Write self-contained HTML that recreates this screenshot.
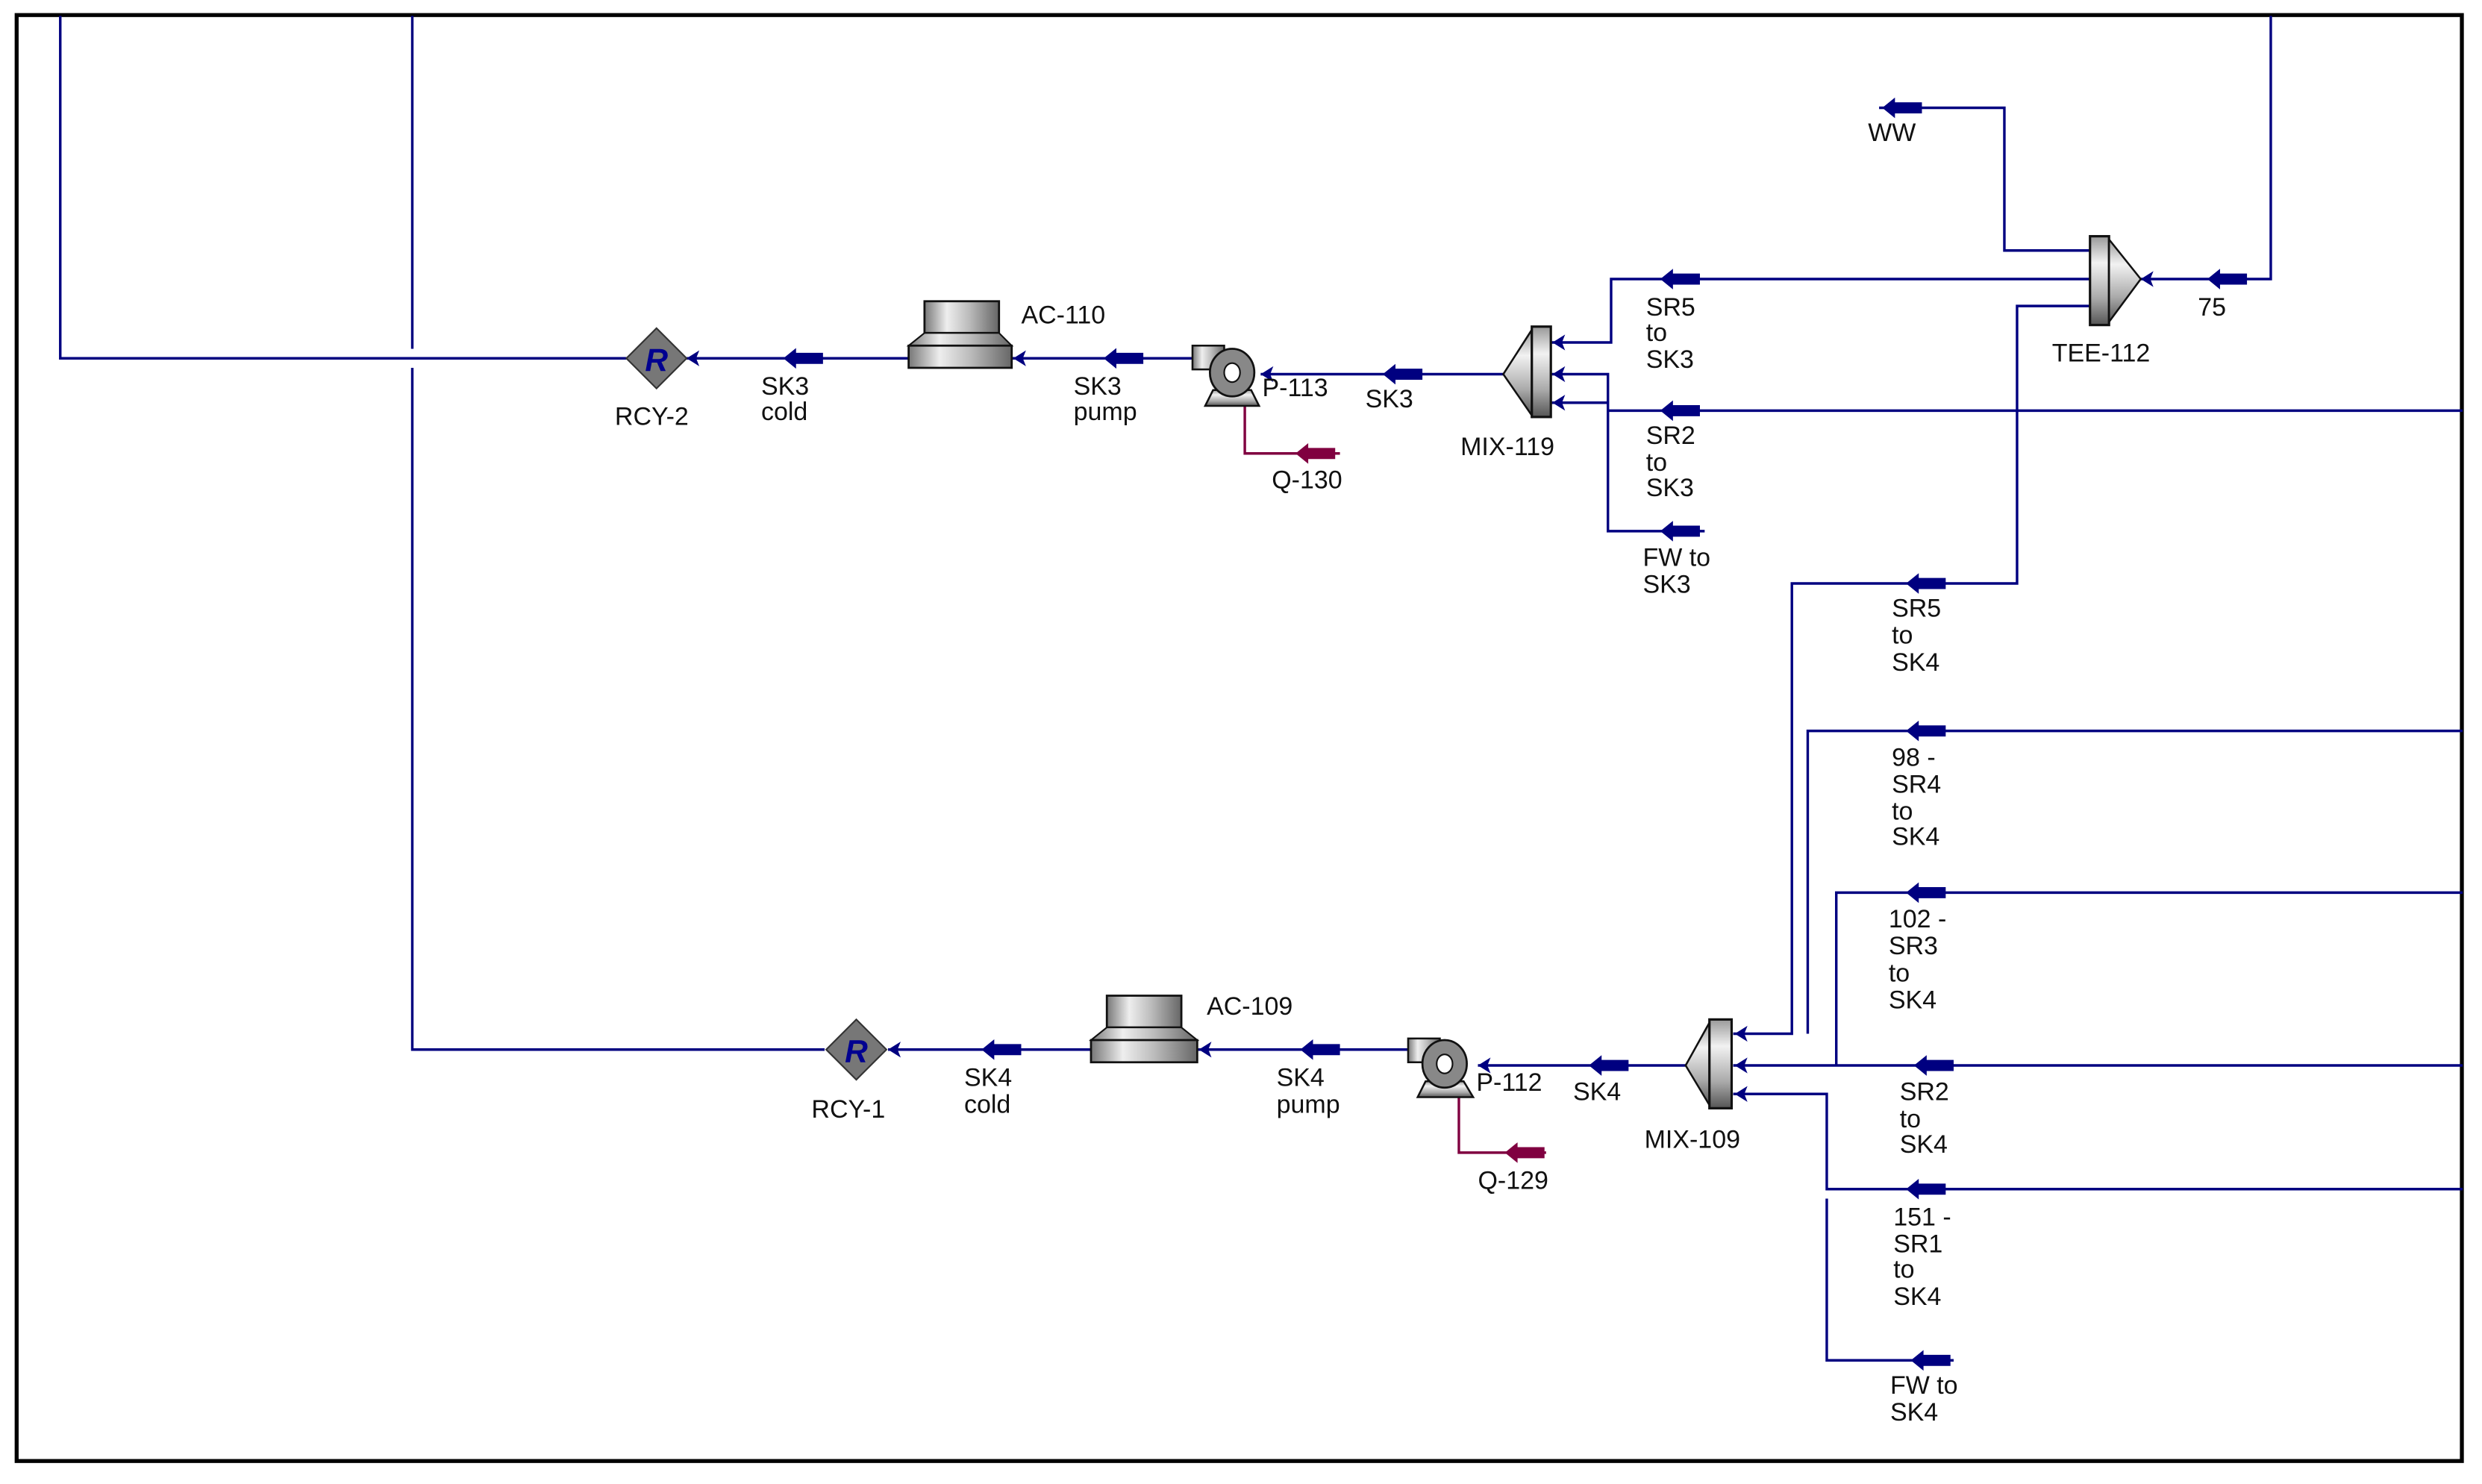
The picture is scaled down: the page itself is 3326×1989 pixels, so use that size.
<!DOCTYPE html>
<html><head><meta charset="utf-8"><style>
html,body{margin:0;padding:0;background:#fff;}
svg{display:block;}
text{font-family:"Liberation Sans",Arial,sans-serif;font-size:16px;fill:#111;}
</style></head><body>
<svg width="3326" height="1989" viewBox="0 0 1565.2 936" preserveAspectRatio="none" xmlns="http://www.w3.org/2000/svg">
<defs>
<polygon id="mk" points="-11,0 -3,-6.5 -3,-3.5 14,-3.5 14,3.5 -3,3.5 -3,6.5" fill="#000080"/>
<polygon id="mr" points="-11,0 -3,-6.5 -3,-3.5 14,-3.5 14,3.5 -3,3.5 -3,6.5" fill="#800040"/>
<polygon id="ah" points="0,0 8,-5 6,0 8,5" fill="#000080"/>
<linearGradient id="gv" x1="0" x2="1" y1="0" y2="0">
<stop offset="0" stop-color="#777"/><stop offset="0.3" stop-color="#eee"/><stop offset="0.6" stop-color="#bbb"/><stop offset="1" stop-color="#666"/></linearGradient>
<linearGradient id="gh" x1="0" x2="0" y1="0" y2="1">
<stop offset="0" stop-color="#999"/><stop offset="0.3" stop-color="#f2f2f2"/><stop offset="0.7" stop-color="#aaa"/><stop offset="1" stop-color="#555"/></linearGradient>
</defs>
<rect x="0" y="0" width="1565.2" height="936" fill="#fff"/>
<rect x="10.5" y="9.5" width="1542" height="912" fill="none" stroke="#000" stroke-width="2.5"/>

<g fill="none" stroke="#000080" stroke-width="1.6">
<polyline points="38,10 38,226 395,226"/>
<polyline points="260,10 260,220"/><polyline points="260,232 260,662 520,662"/>
<line x1="433" y1="226" x2="573" y2="226"/>
<line x1="638" y1="226" x2="752" y2="226"/>
<line x1="795" y1="236" x2="948" y2="236"/>
<polyline points="978,216 1016,216 1016,176 1318,176"/>
<polyline points="978,236 1014,236 1014,335 1075,335"/>
<line x1="978" y1="254" x2="1014" y2="254"/>
<line x1="1014" y1="259" x2="1553" y2="259"/>
<polyline points="1350,176 1432,176 1432,10"/>
<polyline points="1318,158 1264,158 1264,68 1185,68"/>
<polyline points="1318,193 1272,193 1272,368 1130,368 1130,652 1093,652"/>
<polyline points="1553,461 1140,461 1140,652"/>
<polyline points="1553,563 1158,563 1158,672"/>
<line x1="1093" y1="672" x2="1553" y2="672"/>
<polyline points="1093,690 1152,690 1152,750 1553,750"/>
<polyline points="1152,756 1152,858 1232,858"/>
<line x1="932" y1="672" x2="1063" y2="672"/>
<line x1="755" y1="662" x2="890" y2="662"/>
<line x1="560" y1="662" x2="688" y2="662"/>
</g>
<g fill="none" stroke="#800040" stroke-width="1.6">
<polyline points="785,255 785,286 845,286"/>
<polyline points="920,690 920,727 975,727"/>
</g>

<use href="#mk" x="505" y="226"/><use href="#mk" x="707" y="226"/><use href="#mk" x="883" y="236"/>
<use href="#mk" x="1058" y="176"/><use href="#mk" x="1058" y="259"/><use href="#mk" x="1058" y="335"/>
<use href="#mk" x="1403" y="176"/><use href="#mk" x="1198" y="68"/>
<use href="#mk" x="1213" y="368"/><use href="#mk" x="1213" y="461"/><use href="#mk" x="1213" y="563"/>
<use href="#mk" x="1218" y="672"/><use href="#mk" x="1213" y="750"/><use href="#mk" x="1216" y="858"/>
<use href="#mk" x="1013" y="672"/><use href="#mk" x="831" y="662"/><use href="#mk" x="630" y="662"/>
<use href="#mr" x="828" y="286"/><use href="#mr" x="960" y="727"/>
<use href="#ah" x="433" y="226"/><use href="#ah" x="639" y="226"/><use href="#ah" x="795" y="236"/>
<use href="#ah" x="979" y="216"/><use href="#ah" x="979" y="236"/><use href="#ah" x="979" y="254"/>
<use href="#ah" x="1350" y="176"/>
<use href="#ah" x="1094" y="652"/><use href="#ah" x="1094" y="672"/><use href="#ah" x="1094" y="690"/>
<use href="#ah" x="932" y="672"/><use href="#ah" x="756" y="662"/><use href="#ah" x="560" y="662"/>

<polygon points="414,207 433,226 414,245 395,226" fill="#777" stroke="#333" stroke-width="1"/>
<text x="414" y="234" text-anchor="middle" style="font-weight:bold;font-style:italic;font-size:20px;fill:#000090">R</text>
<polygon points="540,643 559,662 540,681 521,662" fill="#777" stroke="#333" stroke-width="1"/>
<text x="540" y="670" text-anchor="middle" style="font-weight:bold;font-style:italic;font-size:20px;fill:#000090">R</text>

<rect x="583" y="190" width="47" height="20" fill="url(#gv)" stroke="#111" stroke-width="1.3"/>
<polygon points="583,210 630,210 638,218 573,218" fill="url(#gv)" stroke="#111" stroke-width="1"/>
<rect x="573" y="218" width="65" height="14" fill="url(#gv)" stroke="#111" stroke-width="1.3"/>
<rect x="698" y="628" width="47" height="20" fill="url(#gv)" stroke="#111" stroke-width="1.3"/>
<polygon points="698,648 745,648 755,656 688,656" fill="url(#gv)" stroke="#111" stroke-width="1"/>
<rect x="688" y="656" width="67" height="14" fill="url(#gv)" stroke="#111" stroke-width="1.3"/>

<rect x="752" y="218" width="20" height="15" fill="url(#gv)" stroke="#111" stroke-width="1.2"/>
<polygon points="765,246 789,246 794,256 760,256" fill="url(#gh)" stroke="#111" stroke-width="1.2"/>
<ellipse cx="777" cy="235" rx="14" ry="15" fill="#888" stroke="#111" stroke-width="1.3"/>
<ellipse cx="777" cy="235" rx="5" ry="6" fill="#fff" stroke="#111" stroke-width="1"/>
<rect x="888" y="655" width="20" height="15" fill="url(#gv)" stroke="#111" stroke-width="1.2"/>
<polygon points="899,682 923,682 929,692 894,692" fill="url(#gh)" stroke="#111" stroke-width="1.2"/>
<ellipse cx="911" cy="671" rx="14" ry="15" fill="#888" stroke="#111" stroke-width="1.3"/>
<ellipse cx="911" cy="671" rx="5" ry="6" fill="#fff" stroke="#111" stroke-width="1"/>

<polygon points="966,208 948,236 966,262" fill="url(#gh)" stroke="#111" stroke-width="1.2"/>
<rect x="966" y="206" width="12" height="57" fill="url(#gh)" stroke="#111" stroke-width="1.5"/>
<polygon points="1078,645 1063,672 1078,697" fill="url(#gh)" stroke="#111" stroke-width="1.2"/>
<rect x="1078" y="643" width="14" height="56" fill="url(#gh)" stroke="#111" stroke-width="1.5"/>
<rect x="1318" y="149" width="12" height="56" fill="url(#gh)" stroke="#111" stroke-width="1.5"/>
<polygon points="1330,151 1350,176 1330,203" fill="url(#gh)" stroke="#111" stroke-width="1.2"/>

<text x="411" y="268" text-anchor="middle">RCY-2</text>
<text x="535" y="705" text-anchor="middle">RCY-1</text>
<text x="480" y="249">SK3</text><text x="480" y="265">cold</text>
<text x="644" y="204">AC-110</text>
<text x="677" y="249">SK3</text><text x="677" y="265">pump</text>
<text x="796" y="250">P-113</text>
<text x="802" y="308">Q-130</text>
<text x="861" y="257">SK3</text>
<text x="921" y="287">MIX-119</text>
<text x="1038" y="199">SR5</text><text x="1038" y="215">to</text><text x="1038" y="232">SK3</text>
<text x="1038" y="280">SR2</text><text x="1038" y="297">to</text><text x="1038" y="313">SK3</text>
<text x="1036" y="357">FW to</text><text x="1036" y="374">SK3</text>
<text x="1178" y="89">WW</text>
<text x="1294" y="228">TEE-112</text>
<text x="1386" y="199">75</text>
<text x="1193" y="389">SR5</text><text x="1193" y="406">to</text><text x="1193" y="423">SK4</text>
<text x="1193" y="483">98 -</text><text x="1193" y="500">SR4</text><text x="1193" y="517">to</text><text x="1193" y="533">SK4</text>
<text x="1191" y="585">102 -</text><text x="1191" y="602">SR3</text><text x="1191" y="619">to</text><text x="1191" y="636">SK4</text>
<text x="1198" y="694">SR2</text><text x="1198" y="711">to</text><text x="1198" y="727">SK4</text>
<text x="1194" y="773">151 -</text><text x="1194" y="790">SR1</text><text x="1194" y="806">to</text><text x="1194" y="823">SK4</text>
<text x="1192" y="879">FW to</text><text x="1192" y="896">SK4</text>
<text x="992" y="694">SK4</text>
<text x="1037" y="724">MIX-109</text>
<text x="931" y="688">P-112</text>
<text x="932" y="750">Q-129</text>
<text x="805" y="685">SK4</text><text x="805" y="702">pump</text>
<text x="761" y="640">AC-109</text>
<text x="608" y="685">SK4</text><text x="608" y="702">cold</text>
</svg>
</body></html>
